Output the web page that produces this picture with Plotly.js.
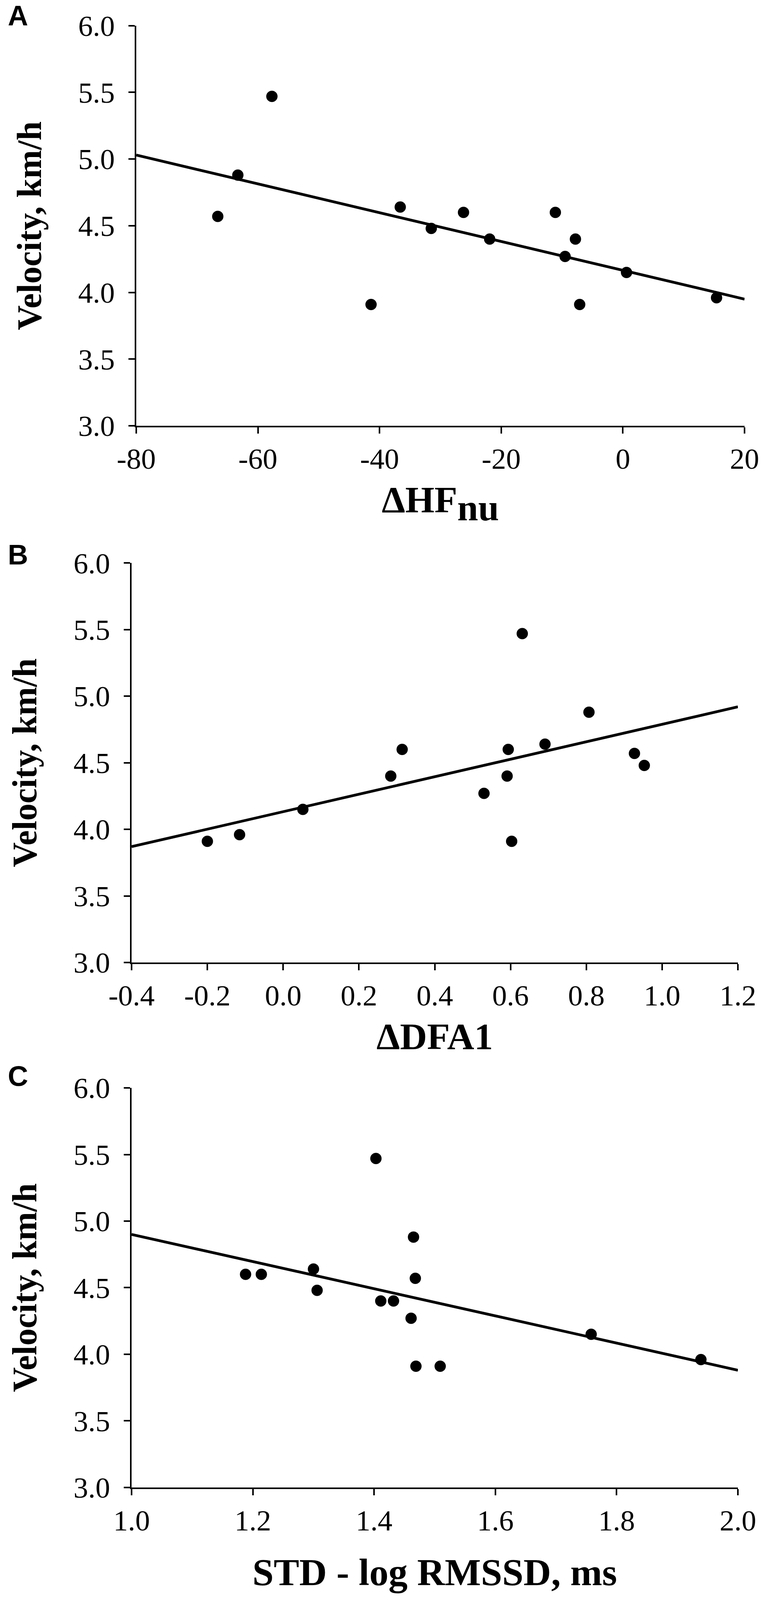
<!DOCTYPE html>
<html>
<head>
<meta charset="utf-8">
<script src="https://cdn.plot.ly/plotly-3.0.1.min.js"></script>
<style>
  html, body { margin: 0; padding: 0; background: #ffffff; overflow: hidden; }
</style>
</head>
<body>
<div id="chart"></div>
<script>
// =========================
// DATA
// =========================
// Panel A: delta HF (normalised units) vs velocity
const hfX = [-66.6, -63.3, -57.7, -41.4, -36.6, -31.5, -26.2, -21.9, -11.1, -9.5, -7.8, -7.1, 0.6, 15.4];
const hfY = [4.57, 4.88, 5.47, 3.91, 4.64, 4.48, 4.60, 4.40, 4.60, 4.27, 4.40, 3.91, 4.15, 3.96];
const hfTrendX = [-80, 20];
const hfTrendY = [5.03, 3.95];
const hfTicks = [-80, -60, -40, -20, 0, 20];
const hfTickText = ["-80", "-60", "-40", "-20", "0", "20"];

// Panel B: delta DFA1 vs velocity
const dfaX = [-0.200, -0.115, 0.052, 0.284, 0.314, 0.530, 0.591, 0.594, 0.603, 0.631, 0.691, 0.807, 0.927, 0.953];
const dfaY = [3.91, 3.96, 4.15, 4.40, 4.60, 4.27, 4.40, 4.60, 3.91, 5.47, 4.64, 4.88, 4.57, 4.48];
const dfaTrendX = [-0.4, 1.2];
const dfaTrendY = [3.87, 4.92];
const dfaTicks = [-0.4, -0.2, 0.0, 0.2, 0.4, 0.6, 0.8, 1.0, 1.2];
const dfaTickText = ["-0.4", "-0.2", "0.0", "0.2", "0.4", "0.6", "0.8", "1.0", "1.2"];

// Panel C: STD - log RMSSD vs velocity
const stdX = [1.188, 1.214, 1.300, 1.306, 1.403, 1.411, 1.432, 1.461, 1.465, 1.468, 1.469, 1.509, 1.758, 1.939];
const stdY = [4.60, 4.60, 4.64, 4.48, 5.47, 4.40, 4.40, 4.27, 4.88, 4.57, 3.91, 3.91, 4.15, 3.96];
const stdTrendX = [1.0, 2.0];
const stdTrendY = [4.90, 3.88];
const stdTicks = [1.0, 1.2, 1.4, 1.6, 1.8, 2.0];
const stdTickText = ["1.0", "1.2", "1.4", "1.6", "1.8", "2.0"];

// shared velocity axis
const velTicks = [3.0, 3.5, 4.0, 4.5, 5.0, 5.5, 6.0];
const velTickText = ["3.0", "3.5", "4.0", "4.5", "5.0", "5.5", "6.0"];

const panelLabels = ["A", "B", "C"];
const xTitles = ["\u0394HF<sub><span style=\"font-size:96px\">nu</span></sub>", "\u0394DFA1", "STD - log RMSSD, ms"];
const yTitle = "Velocity, km/h";

// =========================
// LAYOUT HELPERS
// =========================
// laid out for a 1962x4490 page; the real viewport can be shorter,
// so vertical positions are squeezed to whatever height we get
const REF_H = 4490;
const W = window.innerWidth || 1962;
const H = window.innerHeight || REF_H;
const k = Math.min(1, H / REF_H);
const serif = "'Liberation Serif', 'Times New Roman', serif";
const sans = "'Liberation Sans', Arial, sans-serif";

// plot boxes in reference pixels: [left, right, top, bottom]
const boxes = [
    [349, 1907, 72, 1195],
    [337, 1890, 1580, 2701],
    [337, 1890, 3053, 4174]
];
const labelPos = [[18, 44], [18, 1557], [18, 3020]];
// gap between tick labels and the x title of each panel
const xTitleGap = [31, 31, 58];
const xTitleSize = [96, 96, 98];

function xDom(b) { return [b[0] / 1962, b[1] / 1962]; }
function yDom(b) { return [1 - b[3] / REF_H, 1 - b[2] / REF_H]; }

function xAxis(i, range, ticks, text) {
    return {
        domain: xDom(boxes[i]),
        anchor: "y" + (i === 0 ? "" : i + 1),
        range: range,
        tickvals: ticks,
        ticktext: text,
        ticks: "outside",
        ticklen: 16,
        tickwidth: 4,
        tickcolor: "#000",
        showline: true,
        linewidth: 4,
        linecolor: "#000",
        showgrid: false,
        zeroline: false,
        tickfont: { family: serif, size: 75, color: "#000" },
        title: {
            text: xTitles[i],
            standoff: xTitleGap[i],
            font: { family: serif, size: xTitleSize[i], color: "#000", weight: "bold" }
        }
    };
}

function yAxis(i) {
    return {
        domain: yDom(boxes[i]),
        anchor: "x" + (i === 0 ? "" : i + 1),
        range: [3, 6],
        tickvals: velTicks,
        ticktext: velTickText,
        ticks: "outside",
        ticklen: 16,
        tickwidth: 4,
        tickcolor: "#000",
        showline: true,
        linewidth: 4,
        linecolor: "#000",
        showgrid: false,
        zeroline: false,
        ticklabelstandoff: 20,
        tickfont: { family: serif, size: 75, color: "#000" },
        title: {
            text: yTitle,
            standoff: 66,
            font: { family: serif, size: Math.round(96 * k), color: "#000", weight: "bold" }
        }
    };
}

function dots(x, y, i) {
    return {
        x: x, y: y,
        xaxis: "x" + (i === 0 ? "" : i + 1),
        yaxis: "y" + (i === 0 ? "" : i + 1),
        mode: "markers",
        type: "scatter",
        marker: { color: "#000", size: 29 },
        cliponaxis: false,
        hoverinfo: "skip"
    };
}

function trend(x, y, i) {
    return {
        x: x, y: y,
        xaxis: "x" + (i === 0 ? "" : i + 1),
        yaxis: "y" + (i === 0 ? "" : i + 1),
        mode: "lines",
        type: "scatter",
        line: { color: "#000", width: 7 },
        cliponaxis: false,
        hoverinfo: "skip"
    };
}

// =========================
// BUILD FIGURE
// =========================
const data = [
    trend(hfTrendX, hfTrendY, 0), dots(hfX, hfY, 0),
    trend(dfaTrendX, dfaTrendY, 1), dots(dfaX, dfaY, 1),
    trend(stdTrendX, stdTrendY, 2), dots(stdX, stdY, 2)
];

const annotations = panelLabels.map((lab, i) => ({
    text: lab,
    xref: "paper", yref: "paper",
    x: labelPos[i][0] / 1962,
    y: 1 - labelPos[i][1] / REF_H,
    xanchor: "left", yanchor: "middle",
    showarrow: false,
    font: { family: sans, size: 72, color: "#000", weight: "bold" }
}));

const layout = {
    width: W,
    height: H,
    margin: { l: 0, r: 0, t: 0, b: 0 },
    paper_bgcolor: "#ffffff",
    plot_bgcolor: "#ffffff",
    showlegend: false,
    xaxis: xAxis(0, [-80, 20], hfTicks, hfTickText),
    yaxis: yAxis(0),
    xaxis2: xAxis(1, [-0.4, 1.2], dfaTicks, dfaTickText),
    yaxis2: yAxis(1),
    xaxis3: xAxis(2, [1.0, 2.0], stdTicks, stdTickText),
    yaxis3: yAxis(2),
    annotations: annotations
};

Plotly.newPlot("chart", data, layout, { staticPlot: true, displayModeBar: false });
</script>
</body>
</html>
